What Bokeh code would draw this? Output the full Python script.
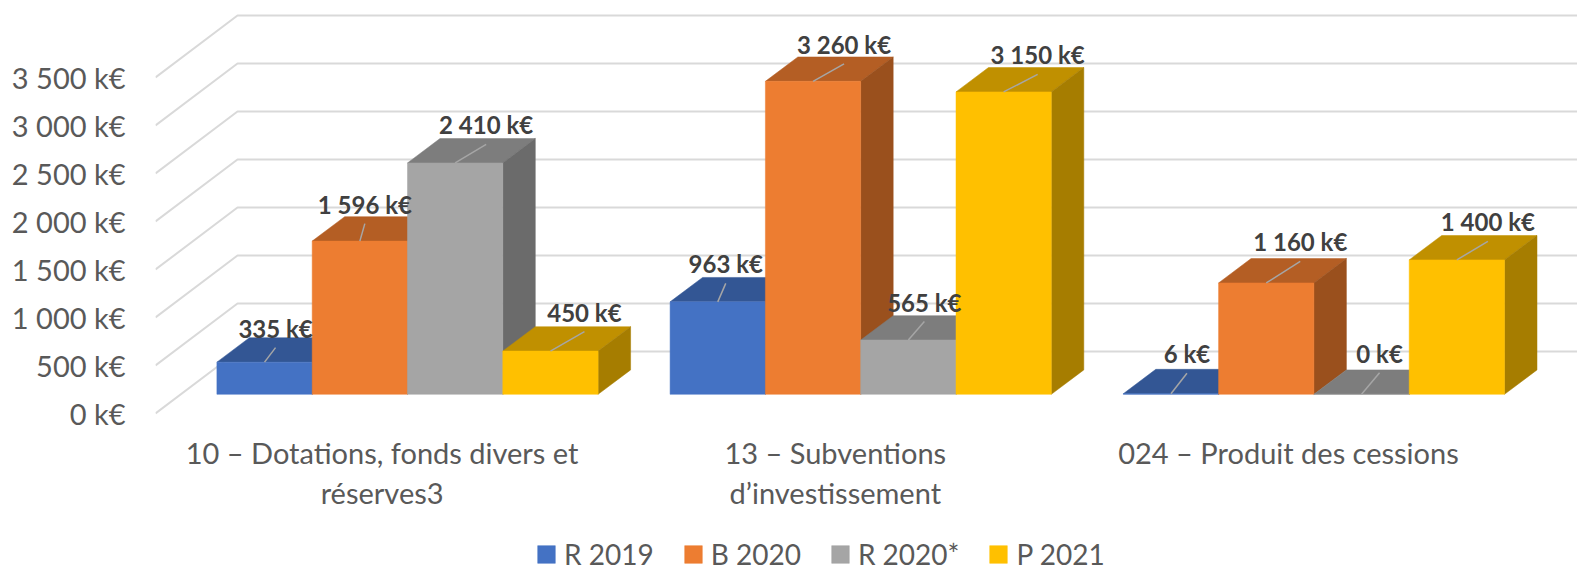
from bokeh.plotting import figure
from bokeh.models import (ColumnDataSource, Range1d, FixedTicker, Legend, LegendItem)
from bokeh.core.properties import value
from bokeh.embed import file_html
from bokeh.resources import INLINE

# ---- data ----
categories = ["10 – Dotations, fonds divers et\nréserves3",
              "13 – Subventions\nd’investissement",
              "024 – Produit des cessions"]
series_names = ["R 2019", "B 2020", "R 2020*", "P 2021"]
r2019 = [335, 963, 6]
b2020 = [1596, 3260, 1160]
r2020 = [2410, 565, 0]
p2021 = [450, 3150, 1400]
tick_values = [0, 500, 1000, 1500, 2000, 2500, 3000, 3500]
tick_labels = ["0 k€", "500 k€", "1 000 k€", "1 500 k€", "2 000 k€", "2 500 k€", "3 000 k€", "3 500 k€"]

# ---- styles ----
front_colors = ["#4472C4", "#ED7D31", "#A5A5A5", "#FFC000"]
top_colors = ["#335694", "#B45E24", "#7D7D7D", "#C09000"]
side_colors = ["#2A4679", "#9A501D", "#6B6B6B", "#A67D00"]
FONT = "Lato"

# hand-placed data label offsets from the bar's front top edge, in pixels (per series, per category)
label_dx = [[11, 8, 16], [5, 31, 34], [31, 16, 18], [34, 34, 31]]
label_dy = [[34, 38, 40], [37, 37, 41], [38, 38, 41], [39, 37, 38]]

# ---- projection of the 3D box ----
WIDTH, HEIGHT = 1577, 571
FRAME_LEFT, FRAME_TOP, BELOW_ZERO = 155, 8, 158
frame_w = WIDTH - FRAME_LEFT
frame_h = HEIGHT - FRAME_TOP
PX_X = 453.2          # px per category
PX_Y = 0.096          # px per k€
px2x = lambda px: px / PX_X
px2y = lambda px: px / PX_Y

WALL_DX, WALL_DY = px2x(82), px2y(62)
FLOOR_DX, FLOOR_DY = px2x(25.4), px2y(19.2)
BAR_DX, BAR_DY = px2x(32.5), px2y(24.4)
BAR_W = px2x(95.3)

x_start = -0.5
x_end = x_start + frame_w / PX_X

p = figure(width=WIDTH, height=HEIGHT, output_backend="svg", toolbar_location=None,
           frame_width=frame_w, frame_height=frame_h,
           x_range=Range1d(x_start, x_end),
           y_range=Range1d(-px2y(BELOW_ZERO), px2y(frame_h - BELOW_ZERO)),
           min_border_left=FRAME_LEFT, min_border_right=0, min_border_top=FRAME_TOP,
           min_border_bottom=0, outline_line_color=None,
           background_fill_color="white", border_fill_color="white")
p.grid.visible = False

# walls
p.multi_line(
    xs=[[x_start, x_start + WALL_DX, x_end] for _ in tick_values],
    ys=[[v, v + WALL_DY, v + WALL_DY] for v in tick_values],
    line_color="#D9D9D9", line_width=2)

# axes
ya = p.yaxis[0]
ya.ticker = FixedTicker(ticks=tick_values)
ya.major_label_overrides = dict(zip(tick_values, tick_labels))
ya.major_label_standoff = 24
ya.axis_line_color = None
ya.major_tick_line_color = None
ya.minor_tick_line_color = None
ya.major_label_text_font = FONT
ya.major_label_text_font_size = "29px"
ya.major_label_text_color = "#595959"

xa = p.xaxis[0]
xa.fixed_location = 0
xa.ticker = FixedTicker(ticks=list(range(len(categories))))
xa.major_label_overrides = {i: c for i, c in enumerate(categories)}
xa.major_label_standoff = 15
xa.axis_line_color = None
xa.major_tick_line_color = None
xa.minor_tick_line_color = None
xa.major_label_text_font = FONT
xa.major_label_text_font_size = "29px"
xa.major_label_text_color = "#595959"
xa.major_label_text_line_height = 1.16

# bars
series = [r2019, b2020, r2020, p2021]
lab_x, lab_y, lab_t, lead_x0, lead_y0, lead_x1, lead_y1 = [], [], [], [], [], [], []

front_renderers = [None] * 4
for s, vals in enumerate(series):
    lefts = [c + FLOOR_DX + (s - 2) * BAR_W for c in range(len(vals))]
    rights = [l + BAR_W for l in lefts]
    bottoms = [FLOOR_DY] * len(vals)
    tops = [FLOOR_DY + v for v in vals]
    # top face
    p.patches(
        xs=[[l, r, r + BAR_DX, l + BAR_DX] for l, r in zip(lefts, rights)],
        ys=[[t, t, t + BAR_DY, t + BAR_DY] for t in tops],
        fill_color=top_colors[s], line_color=top_colors[s], line_width=0.5)
    # side face
    p.patches(
        xs=[[r, r + BAR_DX, r + BAR_DX, r] for r in rights],
        ys=[[b, b + BAR_DY, t + BAR_DY, t] for b, t in zip(bottoms, tops)],
        fill_color=side_colors[s], line_color=side_colors[s], line_width=0.5)
    # front face
    src = ColumnDataSource(dict(left=lefts, right=rights, bottom=bottoms, top=tops))
    front_renderers[s] = p.quad(left="left", right="right", bottom="bottom", top="top", source=src,
                                fill_color=front_colors[s], line_color=front_colors[s], line_width=0.5)
    for c, v in enumerate(vals):
        cx = lefts[c] + BAR_W / 2
        lx = cx + px2x(label_dx[s][c])
        ly = tops[c] + px2y(label_dy[s][c])
        lab_x.append(lx)
        lab_y.append(ly)
        lab_t.append(f"{v:,}".replace(",", " ") + " k€")
        lead_x0.append(cx)
        lead_y0.append(tops[c])
        lead_x1.append(lx)
        lead_y1.append(ly - px2y(19.5))

p.segment(lead_x0, lead_y0, lead_x1, lead_y1, line_color="#A6A6A6", line_width=1.5)
p.text(lab_x, lab_y, text=lab_t, text_align="center", text_baseline="middle",
       text_font=value(FONT), text_font_style="bold", text_font_size="24px", text_color="#404040")

legend = Legend(items=[LegendItem(label=n, renderers=[r]) for n, r in zip(series_names, front_renderers)],
                orientation="horizontal", location=(380, 0), border_line_color=None,
                background_fill_alpha=0, glyph_width=22, glyph_height=22, label_standoff=7,
                spacing=28, padding=0, margin=0,
                label_text_font=FONT, label_text_font_size="28px", label_text_color="#595959")
p.add_layout(legend, "center")

open("out.html", "w").write(file_html(p, INLINE))
